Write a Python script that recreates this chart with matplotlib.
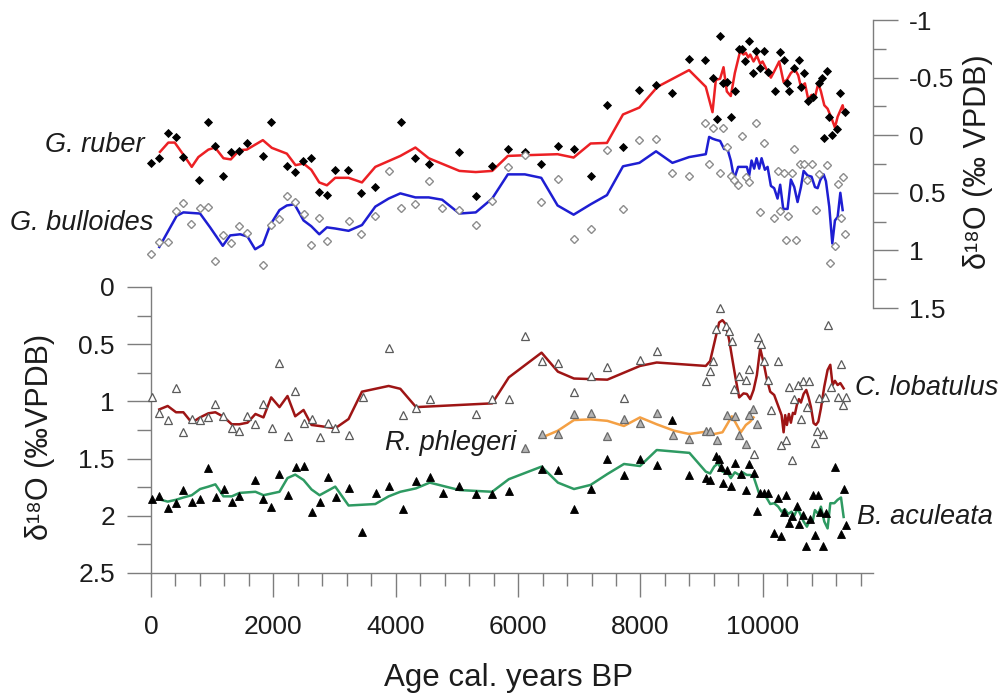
import matplotlib
matplotlib.use("Agg")
import matplotlib.pyplot as plt
from matplotlib.ticker import MultipleLocator, FuncFormatter

plt.rcParams['font.family'] = ['Liberation Sans', 'DejaVu Sans']

# ---------------- planktonic species (upper panel, right axis) ----------------
ruber_age = [0, 136, 273, 404, 519, 791, 928, 1052, 1184, 1304, 1440, 1571, 1828, 1964,
             2220, 2351, 2482, 2619, 2750, 2875, 3006, 3219, 3437, 3666, 4090, 4321, 4539,
             5041, 5308, 5576, 5832, 6110, 6378, 6645, 6907, 7185, 7452, 7714, 7982, 8254,
             8522, 8794, 9056, 9177, 9247, 9301, 9345, 9422, 9476, 9537, 9602, 9651, 9710,
             9776, 9831, 9890, 9951, 10011, 10077, 10191, 10283, 10339, 10393, 10421, 10502,
             10584, 10617, 10676, 10742, 10823, 10922, 10971, 11004, 11052, 11080, 11135,
             11206, 11260, 11347]
ruber_d18o = [0.24, 0.20, -0.02, 0.015, 0.19, 0.385, -0.113, 0.09, 0.357, 0.15, 0.14, 0.067,
              0.18, -0.113, 0.27, 0.32, 0.22, 0.197, 0.49, 0.52, 0.30, 0.30, 0.50, 0.45, -0.115,
              0.20, 0.25, 0.15, 0.53, 0.27, 0.12, 0.145, 0.25, 0.096, 0.12, 0.35, -0.26, 0.104,
              -0.39, -0.44, -0.37, -0.66, -0.65, -0.50, -0.14, -0.86, -0.45, -0.46, -0.16,
              -0.38, -0.745, -0.745, -0.64, -0.82, -0.54, -0.73, -0.58, -0.73, -0.55, -0.38,
              -0.72, -0.65, -0.45, -0.38, -0.58, -0.65, -0.42, -0.54, -0.30, -0.33, -0.455,
              -0.50, 0.02, -0.56, -0.16, 0.00, -0.05, -0.37, -0.20]

ruber_smooth_age = [147, 283, 388, 530, 666, 774, 938, 1047, 1184, 1304, 1445, 1566, 1828,
                    1975, 2220, 2362, 2493, 2619, 2750, 2875, 3011, 3229, 3448, 3666, 4075,
                    4321, 4539, 5041, 5308, 5576, 5832, 6110, 6645, 6907, 7185, 7452, 7714,
                    7982, 8277, 8794, 9067, 9177, 9231, 9301, 9357, 9411, 9476, 9542, 9629,
                    9684, 9722, 9760, 9793, 9848, 9902, 9956, 9995, 10066, 10131, 10196,
                    10267, 10339, 10393, 10458, 10524, 10578, 10622, 10687, 10742, 10796,
                    10851, 10906, 10949, 11004, 11058, 11113, 11178, 11222, 11304, 11320]
ruber_smooth = [0.145, 0.064, 0.064, 0.17, 0.275, 0.19, 0.125, 0.107, 0.20, 0.21, 0.13,
                0.125, 0.043, 0.11, 0.16, 0.26, 0.246, 0.30, 0.41, 0.435, 0.37, 0.37, 0.41,
                0.275, 0.18, 0.107, 0.20, 0.31, 0.32, 0.31, 0.18, 0.174, 0.165, 0.194, 0.072,
                0.067, -0.18, -0.24, -0.42, -0.565, -0.42, -0.20, -0.48, -0.49, -0.59, -0.38,
                -0.34, -0.54, -0.73, -0.70, -0.715, -0.675, -0.70, -0.64, -0.69, -0.62, -0.64,
                -0.565, -0.50, -0.565, -0.64, -0.46, -0.48, -0.54, -0.57, -0.52, -0.42, -0.45,
                -0.31, -0.35, -0.33, -0.45, -0.38, -0.26, -0.23, -0.16, -0.067, -0.16, -0.26,
                -0.22]

bull_age = [0, 131, 278, 404, 530, 660, 802, 928, 1052, 1184, 1309, 1440, 1571, 1833, 1964,
            2100, 2220, 2357, 2493, 2619, 2750, 2881, 3229, 3437, 3666, 3884, 4090, 4321,
            4539, 4758, 5041, 5308, 5576, 5832, 6110, 6378, 6645, 6907, 7185, 7452, 7714,
            7982, 8254, 8522, 8794, 9056, 9122, 9177, 9301, 9351, 9422, 9476, 9531, 9596,
            9651, 9717, 9776, 9890, 9946, 10011, 10185, 10241, 10283, 10339, 10376, 10414,
            10469, 10502, 10540, 10611, 10666, 10720, 10802, 10873, 10922, 11052, 11101,
            11183, 11222, 11277, 11309, 11347]
bull_d18o = [1.035, 0.93, 0.93, 0.66, 0.59, 0.77, 0.63, 0.62, 1.09, 0.87, 0.94, 0.79, 0.85,
             1.13, 0.78, 0.73, 0.53, 0.58, 0.68, 0.95, 0.72, 0.92, 0.745, 0.86, 0.70, 0.31,
             0.63, 0.60, 0.40, 0.63, 0.65, 0.78, 0.57, 0.28, 0.17, 0.58, 0.38, 0.90, 0.81,
             0.13, 0.64, 0.043, 0.03, 0.33, 0.35, -0.11, 0.25, -0.06, 0.33, -0.065, 0.10,
             0.35, 0.39, 0.43, 0.01, 0.36, 0.41, -0.11, 0.67, 0.067, 0.72, 0.31, 0.66, 0.33,
             0.91, 0.70, 0.33, 0.12, 0.91, 0.25, 0.25, 0.385, 0.25, 0.65, 0.34, 0.26, 1.11,
             0.96, 0.42, 0.72, 0.36, 0.855]

bull_smooth_age = [136, 283, 420, 530, 666, 802, 966, 1173, 1293, 1457, 1577, 1702, 1828,
                   1948, 2100, 2220, 2346, 2493, 2619, 2750, 2875, 3011, 3229, 3448, 3666,
                   3884, 4075, 4321, 4539, 4758, 5041, 5308, 5576, 5832, 6110, 6378, 6645,
                   6907, 7185, 7452, 7714, 7982, 8254, 8522, 8794, 9067, 9122, 9177, 9231,
                   9301, 9367, 9422, 9476, 9531, 9596, 9667, 9738, 9776, 9815, 9858, 9897,
                   9940, 9979, 10033, 10077, 10131, 10185, 10240, 10283, 10333, 10404, 10458,
                   10513, 10567, 10622, 10666, 10731, 10796, 10851, 10895, 10938, 10993,
                   11031, 11085, 11135, 11178, 11222, 11266, 11304]
bull_smooth = [0.97, 0.83, 0.70, 0.67, 0.675, 0.68, 0.80, 0.96, 0.87, 0.86, 0.88, 0.99, 0.95,
               0.78, 0.65, 0.61, 0.60, 0.74, 0.79, 0.86, 0.80, 0.81, 0.83, 0.78, 0.62, 0.55,
               0.505, 0.54, 0.54, 0.56, 0.68, 0.67, 0.55, 0.34, 0.34, 0.37, 0.61, 0.69, 0.60,
               0.52, 0.27, 0.24, 0.14, 0.24, 0.19, 0.165, 0.015, 0.03, 0.04, 0.05, 0.12, 0.12,
               0.22, 0.38, 0.275, 0.275, 0.275, 0.35, 0.22, 0.29, 0.20, 0.29, 0.20, 0.30,
               0.275, 0.44, 0.46, 0.55, 0.43, 0.64, 0.64, 0.385, 0.45, 0.58, 0.45, 0.31, 0.35,
               0.36, 0.45, 0.46, 0.39, 0.34, 0.40, 0.62, 0.94, 0.74, 0.71, 0.50, 0.65]

# ---------------- benthic species (lower panel, left axis) ----------------
lob_age = [11, 136, 273, 409, 529, 666, 802, 938, 1052, 1184, 1320, 1446, 1577, 1707, 1838,
           1975, 2100, 2231, 2357, 2493, 2624, 2755, 2886, 3011, 3229, 3459, 3884, 4119, 4332,
           4555, 5308, 5576, 5848, 6110, 6383, 6650, 6913, 7185, 7458, 7730, 7992, 8265,
           9067, 9138, 9193, 9231, 9301, 9394, 9449, 9493, 9531, 9602, 9722, 9776, 9847,
           9913, 9967, 10022, 10077, 10131, 10251, 10295, 10382, 10420, 10469, 10502, 10578,
           10622, 10649, 10720, 10758, 10851, 10879, 10922, 10987, 11020, 11058, 11113,
           11222, 11277, 11315, 11358]
lob_d18o = [0.965, 1.10, 1.16, 0.885, 1.265, 1.15, 1.16, 1.14, 1.02, 1.13, 1.235, 1.26,
            1.125, 1.20, 1.02, 1.23, 0.66, 1.30, 0.91, 1.186, 1.154, 1.31, 1.19, 1.235, 1.29,
            0.96, 0.536, 1.12, 1.055, 0.98, 1.11, 0.98, 0.98, 0.425, 0.65, 0.66, 0.92, 0.78,
            0.70, 0.97, 0.64, 0.556, 0.82, 0.73, 0.65, 0.37, 0.18, 0.34, 0.385, 0.47, 0.89,
            0.78, 0.81, 0.72, 1.46, 0.44, 0.50, 0.65, 0.81, 1.075, 0.65, 1.38, 1.34, 0.87,
            1.51, 0.98, 0.857, 1.15, 0.82, 1.046, 0.82, 1.36, 1.26, 0.97, 1.285, 0.965, 0.33,
            0.87, 0.965, 0.67, 1.03, 0.965]

lob_smooth_age = [136, 273, 409, 529, 666, 802, 938, 1052, 1184, 1320, 1446, 1577, 1707,
                  1838, 1964, 2100, 2231, 2357, 2493, 2624, 2755, 3011, 3229, 3448, 3884,
                  4075, 4332, 5576, 5848, 6383, 6650, 6913, 7458, 7992, 8265, 9067, 9138,
                  9231, 9286, 9340, 9394, 9449, 9504, 9558, 9613, 9684, 9738, 9793, 9848,
                  9902, 9956, 10011, 10066, 10120, 10185, 10251, 10306, 10339, 10365, 10393,
                  10425, 10458, 10491, 10524, 10556, 10589, 10622, 10666, 10709, 10747,
                  10786, 10829, 10867, 10906, 10949, 11004, 11058, 11102, 11140, 11178,
                  11222, 11266, 11320]
lob_smooth = [1.07, 1.04, 1.095, 1.095, 1.186, 1.14, 1.104, 1.095, 1.134, 1.20, 1.20, 1.186,
              1.11, 1.14, 0.965, 1.05, 0.953, 1.13, 1.075, 1.206, 1.215, 1.235, 1.154, 0.915,
              0.865, 0.89, 1.05, 1.017, 0.79, 0.574, 0.74, 0.80, 0.81, 0.69, 0.66, 0.69,
              0.647, 0.434, 0.31, 0.29, 0.326, 0.463, 0.64, 0.81, 0.965, 0.93, 0.935, 0.98,
              0.90, 0.77, 0.536, 0.66, 0.807, 0.915, 0.944, 1.04, 1.12, 1.27, 1.12, 1.206,
              1.11, 1.186, 1.10, 1.11, 1.03, 0.98, 1.01, 0.935, 0.90, 0.965, 1.05, 1.19,
              1.206, 1.177, 1.06, 0.87, 0.725, 0.68, 0.857, 0.82, 0.857, 0.84, 0.886]

phleg_age = [6110, 6383, 6650, 6913, 7185, 7458, 7730, 7992, 8265, 8538, 8800, 9067, 9138,
             9247, 9422, 9547, 9613, 9722, 9776, 9842, 9902]
phleg_d18o = [1.41, 1.285, 1.285, 1.11, 1.10, 1.30, 1.154, 1.186, 1.10, 1.29, 1.33, 1.256,
              1.256, 1.34, 1.12, 1.13, 1.29, 1.37, 1.12, 1.07, 1.20]

phleg_smooth_age = [6383, 6650, 6913, 7185, 7458, 7730, 7992, 8265, 8548, 8794, 9067, 9204,
                    9340, 9493, 9558, 9640, 9722, 9793, 9848]
phleg_smooth = [1.317, 1.256, 1.163, 1.157, 1.17, 1.215, 1.14, 1.20, 1.256, 1.285, 1.265,
                1.285, 1.27, 1.13, 1.19, 1.27, 1.206, 1.177, 1.14]

acu_age = [11, 136, 273, 409, 529, 666, 802, 938, 1064, 1195, 1320, 1446, 1702, 1838, 1969,
           2100, 2231, 2362, 2493, 2624, 2755, 2886, 3016, 3235, 3448, 3671, 3884, 4119,
           4332, 4555, 4774, 5041, 5308, 5576, 5848, 6383, 6650, 6913, 7185, 7458, 7730,
           7992, 8265, 8522, 8800, 9067, 9138, 9231, 9286, 9313, 9345, 9411, 9487, 9542,
           9640, 9722, 9776, 9848, 9902, 9956, 10022, 10087, 10175, 10251, 10295, 10339,
           10382, 10431, 10475, 10556, 10584, 10649, 10709, 10774, 10813, 10851, 10895,
           10938, 10977, 11031, 11178, 11277, 11320, 11358]
acu_d18o = [1.856, 1.83, 1.935, 1.885, 1.775, 1.876, 1.85, 1.58, 1.84, 1.77, 1.88, 1.83,
            1.69, 1.856, 1.92, 1.635, 1.82, 1.57, 1.565, 1.964, 1.877, 1.658, 1.84, 1.76,
            2.144, 1.80, 1.737, 1.94, 1.70, 1.66, 1.80, 1.74, 1.81, 1.81, 1.78, 1.59, 1.60,
            1.94, 1.766, 1.50, 1.643, 1.506, 1.56, 1.163, 1.643, 1.67, 1.687, 1.477, 1.50,
            1.576, 1.71, 1.60, 1.74, 1.535, 1.635, 1.775, 1.547, 1.63, 1.955, 1.80, 1.80,
            1.80, 2.153, 1.847, 2.18, 1.964, 1.818, 2.066, 2.00, 1.914, 2.07, 1.99, 2.264,
            2.03, 1.818, 2.168, 1.818, 1.964, 2.264, 1.973, 1.57, 2.16, 1.77, 2.08]

acu_smooth_age = [136, 273, 409, 529, 666, 802, 938, 1052, 1184, 1320, 1446, 1707, 1838,
                  2100, 2231, 2357, 2493, 2624, 2755, 3011, 3229, 3666, 3884, 4075, 4332,
                  4555, 5041, 5576, 5848, 6383, 6650, 6913, 7185, 7458, 7730, 7992, 8265,
                  8800, 9067, 9138, 9204, 9269, 9340, 9422, 9476, 9542, 9613, 9667, 9738,
                  9793, 9848, 9902, 9956, 10011, 10066, 10120, 10185, 10251, 10306, 10360,
                  10414, 10469, 10513, 10567, 10611, 10666, 10720, 10774, 10813, 10851,
                  10906, 10949, 11004, 11058, 11102, 11168, 11222, 11277, 11320]
acu_smooth = [1.856, 1.876, 1.86, 1.84, 1.82, 1.766, 1.745, 1.725, 1.83, 1.83, 1.80, 1.79,
              1.82, 1.79, 1.67, 1.64, 1.687, 1.77, 1.82, 1.745, 1.91, 1.897, 1.83, 1.79, 1.76,
              1.71, 1.775, 1.79, 1.68, 1.57, 1.71, 1.766, 1.73, 1.635, 1.547, 1.565, 1.425,
              1.45, 1.614, 1.63, 1.57, 1.54, 1.614, 1.62, 1.67, 1.62, 1.643, 1.62, 1.643,
              1.643, 1.658, 1.745, 1.833, 1.81, 1.847, 1.897, 1.89, 1.92, 1.964, 1.943, 1.984,
              1.964, 2.00, 1.935, 1.984, 2.05, 2.095, 2.03, 2.05, 1.95, 1.984, 1.92, 2.05,
              2.11, 1.89, 1.89, 1.86, 1.84, 2.01]

x_ticks = [0, 2000, 4000, 6000, 8000, 10000]
lower_ticks = [0, 0.5, 1, 1.5, 2, 2.5]
upper_ticks = [-1, -0.5, 0, 0.5, 1, 1.5]

# ---------------- figure layout (pixel based) ----------------
W, H = 1000, 695
fig = plt.figure(figsize=(W / 100, H / 100), dpi=100)
fig.patch.set_facecolor('white')


def fx(px):
    return px / W


def fy(py):
    return 1 - py / H


X0, X1 = 151, 873
ax_lo = fig.add_axes([fx(X0), fy(573), (X1 - X0) / W, (573 - 287) / H])
ax_up = fig.add_axes([fx(X0), fy(308), (X1 - X0) / W, (308 - 20) / H])
for ax in (ax_lo, ax_up):
    ax.set_facecolor('none')
    ax.set_xlim(0, 11800)

SPINE = '#7d7d7d'
TXT = '#1c1c1c'
fmt = FuncFormatter(lambda v, p: '%g' % v)

# lower panel axes styling
ax_lo.set_ylim(2.5, 0)
ax_lo.spines['top'].set_visible(False)
ax_lo.spines['right'].set_visible(False)
for s in ('left', 'bottom'):
    ax_lo.spines[s].set_color(SPINE)
    ax_lo.spines[s].set_linewidth(1.0)
ax_lo.set_yticks(lower_ticks)
ax_lo.yaxis.set_minor_locator(MultipleLocator(0.25))
ax_lo.yaxis.set_major_formatter(fmt)
ax_lo.set_xticks(x_ticks)
ax_lo.xaxis.set_minor_locator(MultipleLocator(400))
ax_lo.xaxis.set_major_formatter(fmt)
ax_lo.tick_params(axis='y', which='major', length=17, width=1, color=SPINE, pad=9,
                  labelsize=19, labelcolor=TXT)
ax_lo.tick_params(axis='y', which='minor', length=10, width=1, color=SPINE)
ax_lo.tick_params(axis='x', which='major', length=17, width=1, color=SPINE, pad=13,
                  labelsize=19, labelcolor=TXT)
ax_lo.tick_params(axis='x', which='minor', length=9.5, width=1, color=SPINE)

# upper panel axes styling
ax_up.set_ylim(1.5, -1)
for s in ('left', 'top', 'bottom'):
    ax_up.spines[s].set_visible(False)
ax_up.spines['right'].set_color(SPINE)
ax_up.spines['right'].set_linewidth(1.0)
ax_up.yaxis.tick_right()
ax_up.set_yticks(upper_ticks)
ax_up.yaxis.set_minor_locator(MultipleLocator(0.25))
ax_up.yaxis.set_major_formatter(fmt)
ax_up.tick_params(axis='x', which='both', bottom=False, labelbottom=False)
ax_up.tick_params(axis='y', which='major', length=18, width=1, color=SPINE, pad=8,
                  labelsize=19, labelcolor=TXT)
ax_up.tick_params(axis='y', which='minor', length=9.5, width=1, color=SPINE)

# ---------------- data ----------------
LW = 1.8
ax_up.plot(ruber_smooth_age, ruber_smooth, color='#ec2024', lw=LW, zorder=2)
ax_up.plot(bull_smooth_age, bull_smooth, color='#1e1ed2', lw=LW, zorder=2)
ax_up.plot(ruber_age, ruber_d18o, ls='none', marker='D', ms=3.8, mfc='black', mec='black',
           mew=0.6, zorder=3, clip_on=False)
ax_up.plot(bull_age, bull_d18o, ls='none', marker='D', ms=3.8, mfc='white', mec='#8c8c8c',
           mew=1.0, zorder=3, clip_on=False)

ax_lo.plot(lob_smooth_age, lob_smooth, color='#9e1515', lw=LW, zorder=2)
ax_lo.plot(phleg_smooth_age, phleg_smooth, color='#f4a044', lw=LW, zorder=2)
ax_lo.plot(acu_smooth_age, acu_smooth, color='#2e9a62', lw=LW, zorder=2)
ax_lo.plot(lob_age, lob_d18o, ls='none', marker='^', ms=5.8, mfc='white', mec='#5a5a5a',
           mew=0.9, zorder=3, clip_on=False)
ax_lo.plot(phleg_age, phleg_d18o, ls='none', marker='^', ms=5.8, mfc='#b4b4b4', mec='#6a6a6a',
           mew=0.9, zorder=3, clip_on=False)
ax_lo.plot(acu_age, acu_d18o, ls='none', marker='^', ms=5.8, mfc='black', mec='black',
           mew=0.6, zorder=3, clip_on=False)

# ---------------- labels ----------------
fig.text(fx(40), fy(437), 'δ¹⁸O (‰VPDB)', rotation=90, ha='center', va='center',
         fontsize=22, color=TXT)
fig.text(fx(978), fy(162), 'δ¹⁸O (‰ VPDB)', rotation=90, ha='center', va='center',
         fontsize=22, color=TXT)
fig.text(fx(509), fy(678), 'Age cal. years BP', ha='center', va='center',
         fontsize=22.5, color=TXT)

sp = dict(fontsize=19.5, style='italic', color=TXT, va='center', ha='left')
fig.text(fx(45), fy(145), 'G. ruber', **sp)
fig.text(fx(10), fy(223), 'G. bulloides', **sp)
fig.text(fx(385), fy(443), 'R. phlegeri', **sp)
fig.text(fx(855), fy(388), 'C. lobatulus', **sp)
fig.text(fx(857), fy(517), 'B. aculeata', **sp)

fig.savefig('out.png', dpi=100, facecolor='white')
